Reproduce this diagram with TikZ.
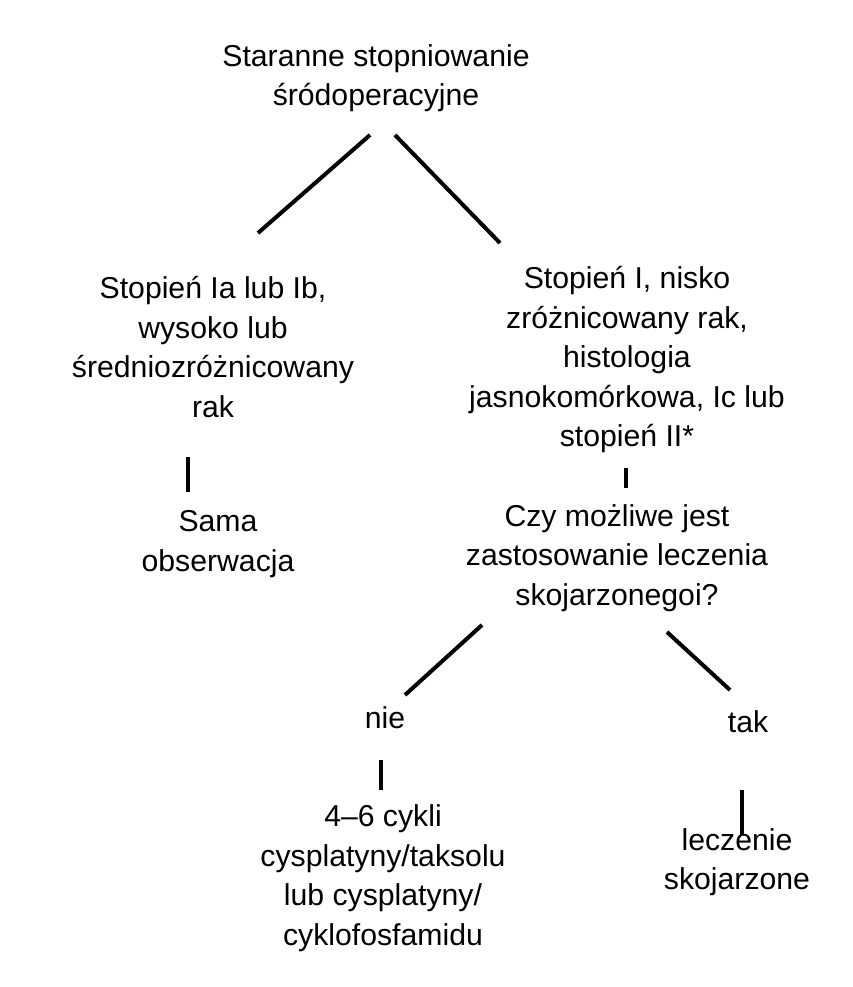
\documentclass[tikz,border=0pt]{standalone}
\usepackage{fontspec}
\setmainfont{Liberation Sans}
\usetikzlibrary{positioning}

\begin{document}
\begin{tikzpicture}[x=1pt, y=-1pt]
\tikzset{stage/.style =
        {
            align=center,
            inner sep=0pt,
            font=\fontsize{30.2}{39.5}\selectfont
        }
}
\tikzset{link/.style =
        {
            line width=4pt
        }
}
		\useasboundingbox (0,0) rectangle (852,987);

		\node[stage] (start) at (376,78) {Staranne stopniowanie\\śródoperacyjne};
		\node[stage] (low) at (213,347) {Stopień Ia lub Ib,\\wysoko lub\\średniozróżnicowany\\rak};
		\node[stage] (high) at (627,360) {Stopień I, nisko\\zróżnicowany rak,\\histologia\\jasnokomórkowa, Ic lub\\stopień II*};
		\node[stage] (watch) at (218,544) {Sama\\obserwacja};
		\node[stage] (ask) at (617,558) {Czy możliwe jest\\zastosowanie leczenia\\skojarzonegoi?};
		\node[stage] (no) at (385,718) {nie};
		\node[stage] (yes) at (748,722) {tak};
		\node[stage] (chemo) at (383,878) {4--6 cykli\\cysplatyny/taksolu\\lub cysplatyny/\\cyklofosfamidu};
		\node[stage] (combo) at (737,862) {leczenie\\skojarzone};

		% end points of the connectors
		\foreach \name / \x / \y in
			{start-l/370/135, low-t/258/233,
				start-r/395/135, high-t/500/243,
				low-b/188/457, watch-t/188/492,
				high-b/626/468, ask-t/626/488,
				ask-l/482/625, no-t/405/695,
				ask-r/667/632, yes-t/730/690,
				no-b/381/760, chemo-t/381/790,
				yes-b/742/790, combo-t/742/835}
			\coordinate (\name) at (\x,\y);

		\foreach \start / \finish in
			{start-l/low-t, start-r/high-t, low-b/watch-t, high-b/ask-t,
				ask-l/no-t, ask-r/yes-t, no-b/chemo-t, yes-b/combo-t}
			{
				\draw[link] (\start) -- (\finish);
			}
	\end{tikzpicture}
\end{document}
